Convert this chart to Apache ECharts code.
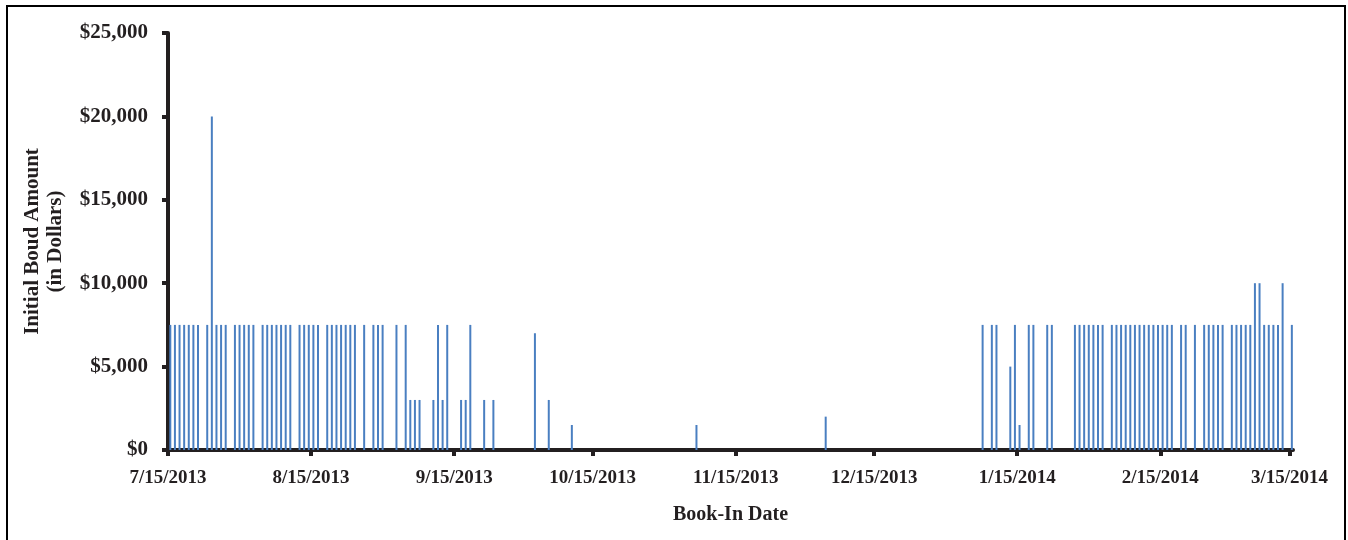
<!DOCTYPE html>
<html>
<head>
<meta charset="utf-8">
<script src="https://cdn.jsdelivr.net/npm/echarts@6/dist/echarts.min.js"></script>
<style>
html,body{margin:0;padding:0;background:#fff;}
#chart{width:1348px;height:540px;}
</style>
</head>
<body>
<div id="chart"></div>
<script>
// ---- data ----
const startDate = '2013-07-15';
const tickLabels = ['7/15/2013','8/15/2013','9/15/2013','10/15/2013','11/15/2013','12/15/2013','1/15/2014','2/15/2014','3/15/2014'];
const tickDates = ['2013-07-15','2013-08-15','2013-09-15','2013-10-15','2013-11-15','2013-12-15','2014-01-15','2014-02-15','2014-03-15'];
const bookInDates = [
  '2013-07-15','2013-07-16','2013-07-17','2013-07-18','2013-07-19','2013-07-20','2013-07-21',
  '2013-07-23','2013-07-24','2013-07-25','2013-07-26','2013-07-27',
  '2013-07-29','2013-07-30','2013-07-31','2013-08-01','2013-08-02',
  '2013-08-04','2013-08-05','2013-08-06','2013-08-07','2013-08-08','2013-08-09','2013-08-10',
  '2013-08-12','2013-08-13','2013-08-14','2013-08-15','2013-08-16',
  '2013-08-18','2013-08-19','2013-08-20','2013-08-21','2013-08-22','2013-08-23','2013-08-24',
  '2013-08-26','2013-08-28','2013-08-29','2013-08-30',
  '2013-09-02','2013-09-04','2013-09-05','2013-09-06','2013-09-07',
  '2013-09-10','2013-09-11','2013-09-12','2013-09-13',
  '2013-09-16','2013-09-17','2013-09-18','2013-09-21','2013-09-23',
  '2013-10-02','2013-10-05','2013-10-10','2013-11-06','2013-12-04',
  '2014-01-07','2014-01-09','2014-01-10','2014-01-13','2014-01-14','2014-01-15',
  '2014-01-17','2014-01-18','2014-01-21','2014-01-22',
  '2014-01-27','2014-01-28','2014-01-29','2014-01-30','2014-01-31','2014-02-01','2014-02-02',
  '2014-02-04','2014-02-05','2014-02-06','2014-02-07','2014-02-08','2014-02-09','2014-02-10',
  '2014-02-11','2014-02-12','2014-02-13','2014-02-14','2014-02-15','2014-02-16','2014-02-17',
  '2014-02-19','2014-02-20','2014-02-22',
  '2014-02-24','2014-02-25','2014-02-26','2014-02-27','2014-02-28',
  '2014-03-02','2014-03-03','2014-03-04','2014-03-05','2014-03-06',
  '2014-03-07','2014-03-08','2014-03-09','2014-03-10','2014-03-11','2014-03-12','2014-03-13','2014-03-15'
];
const bondAmounts = [
  7500,7500,7500,7500,7500,7500,7500,
  7500,20000,7500,7500,7500,
  7500,7500,7500,7500,7500,
  7500,7500,7500,7500,7500,7500,7500,
  7500,7500,7500,7500,7500,
  7500,7500,7500,7500,7500,7500,7500,
  7500,7500,7500,7500,
  7500,7500,3000,3000,3000,
  3000,7500,3000,7500,
  3000,3000,7500,3000,3000,
  7000,3000,1500,1500,2000,
  7500,7500,7500,5000,7500,1500,
  7500,7500,7500,7500,
  7500,7500,7500,7500,7500,7500,7500,
  7500,7500,7500,7500,7500,7500,7500,
  7500,7500,7500,7500,7500,7500,7500,
  7500,7500,7500,
  7500,7500,7500,7500,7500,
  7500,7500,7500,7500,7500,
  10000,10000,7500,7500,7500,7500,10000,7500
];
const yTitle = 'Initial Boud Amount\n(in Dollars)';
const xTitle = 'Book-In Date';

// ---- helpers ----
const DAY = 86400000;
function toUTC(s){ const p = s.split('-').map(Number); return Date.UTC(p[0], p[1]-1, p[2]); }
const t0 = toUTC(startDate);
function dayOffset(s){ return (toUTC(s) - t0) / DAY; }
const tickValues = tickDates.map(dayOffset);
// each book-in day occupies one day slot; bar sits in the middle of its slot
const seriesData = bookInDates.map((d, i) => [dayOffset(d) + 0.5, bondAmounts[i]]);

const ink = '#231f20';
const font = '"Liberation Serif", "Times New Roman", serif';

const chart = echarts.init(document.getElementById('chart'), null, {renderer: 'canvas'});
chart.setOption({
  backgroundColor: '#ffffff',
  animation: false,
  graphic: [{
    type: 'rect',
    shape: {x: 7, y: 6, width: 1338, height: 600},
    style: {fill: 'none', stroke: '#000', lineWidth: 2},
    silent: true, z: -1
  }],
  grid: {left: 168, right: 55, top: 33, bottom: 90, containLabel: false},
  xAxis: {
    type: 'value',
    min: 0,
    max: tickValues[tickValues.length - 1] + 0.75,
    splitLine: {show: false},
    axisLine: {show: true, onZero: false, lineStyle: {color: ink, width: 4}},
    axisTick: {show: true, customValues: tickValues, length: 6, lineStyle: {color: ink, width: 4}},
    axisLabel: {
      show: true,
      customValues: tickValues,
      margin: 19,
      color: ink,
      fontFamily: font,
      fontWeight: 'bold',
      fontSize: 19,
      formatter: function (v) {
        const i = tickValues.indexOf(v);
        return i >= 0 ? tickLabels[i] : '';
      }
    },
    name: xTitle,
    nameLocation: 'middle',
    nameGap: 55,
    nameTextStyle: {color: ink, fontFamily: font, fontWeight: 'bold', fontSize: 20}
  },
  yAxis: {
    type: 'value',
    min: 0,
    max: 25000,
    interval: 5000,
    splitLine: {show: false},
    axisLine: {show: true, lineStyle: {color: ink, width: 4}},
    axisTick: {show: true, length: 6, lineStyle: {color: ink, width: 4}},
    axisLabel: {
      margin: 20,
      color: ink,
      fontFamily: font,
      fontWeight: 'bold',
      fontSize: 21,
      formatter: function (v) { return '$' + v.toLocaleString('en-US'); }
    },
    name: yTitle,
    nameLocation: 'middle',
    nameRotate: 90,
    nameGap: 101,
    nameTextStyle: {color: ink, fontFamily: font, fontWeight: 'bold', fontSize: 21, lineHeight: 23, align: 'center'}
  },
  series: [{
    type: 'bar',
    data: seriesData,
    barWidth: 2,
    itemStyle: {color: '#4a7fc1'},
    silent: true
  }]
});
</script>
</body>
</html>
